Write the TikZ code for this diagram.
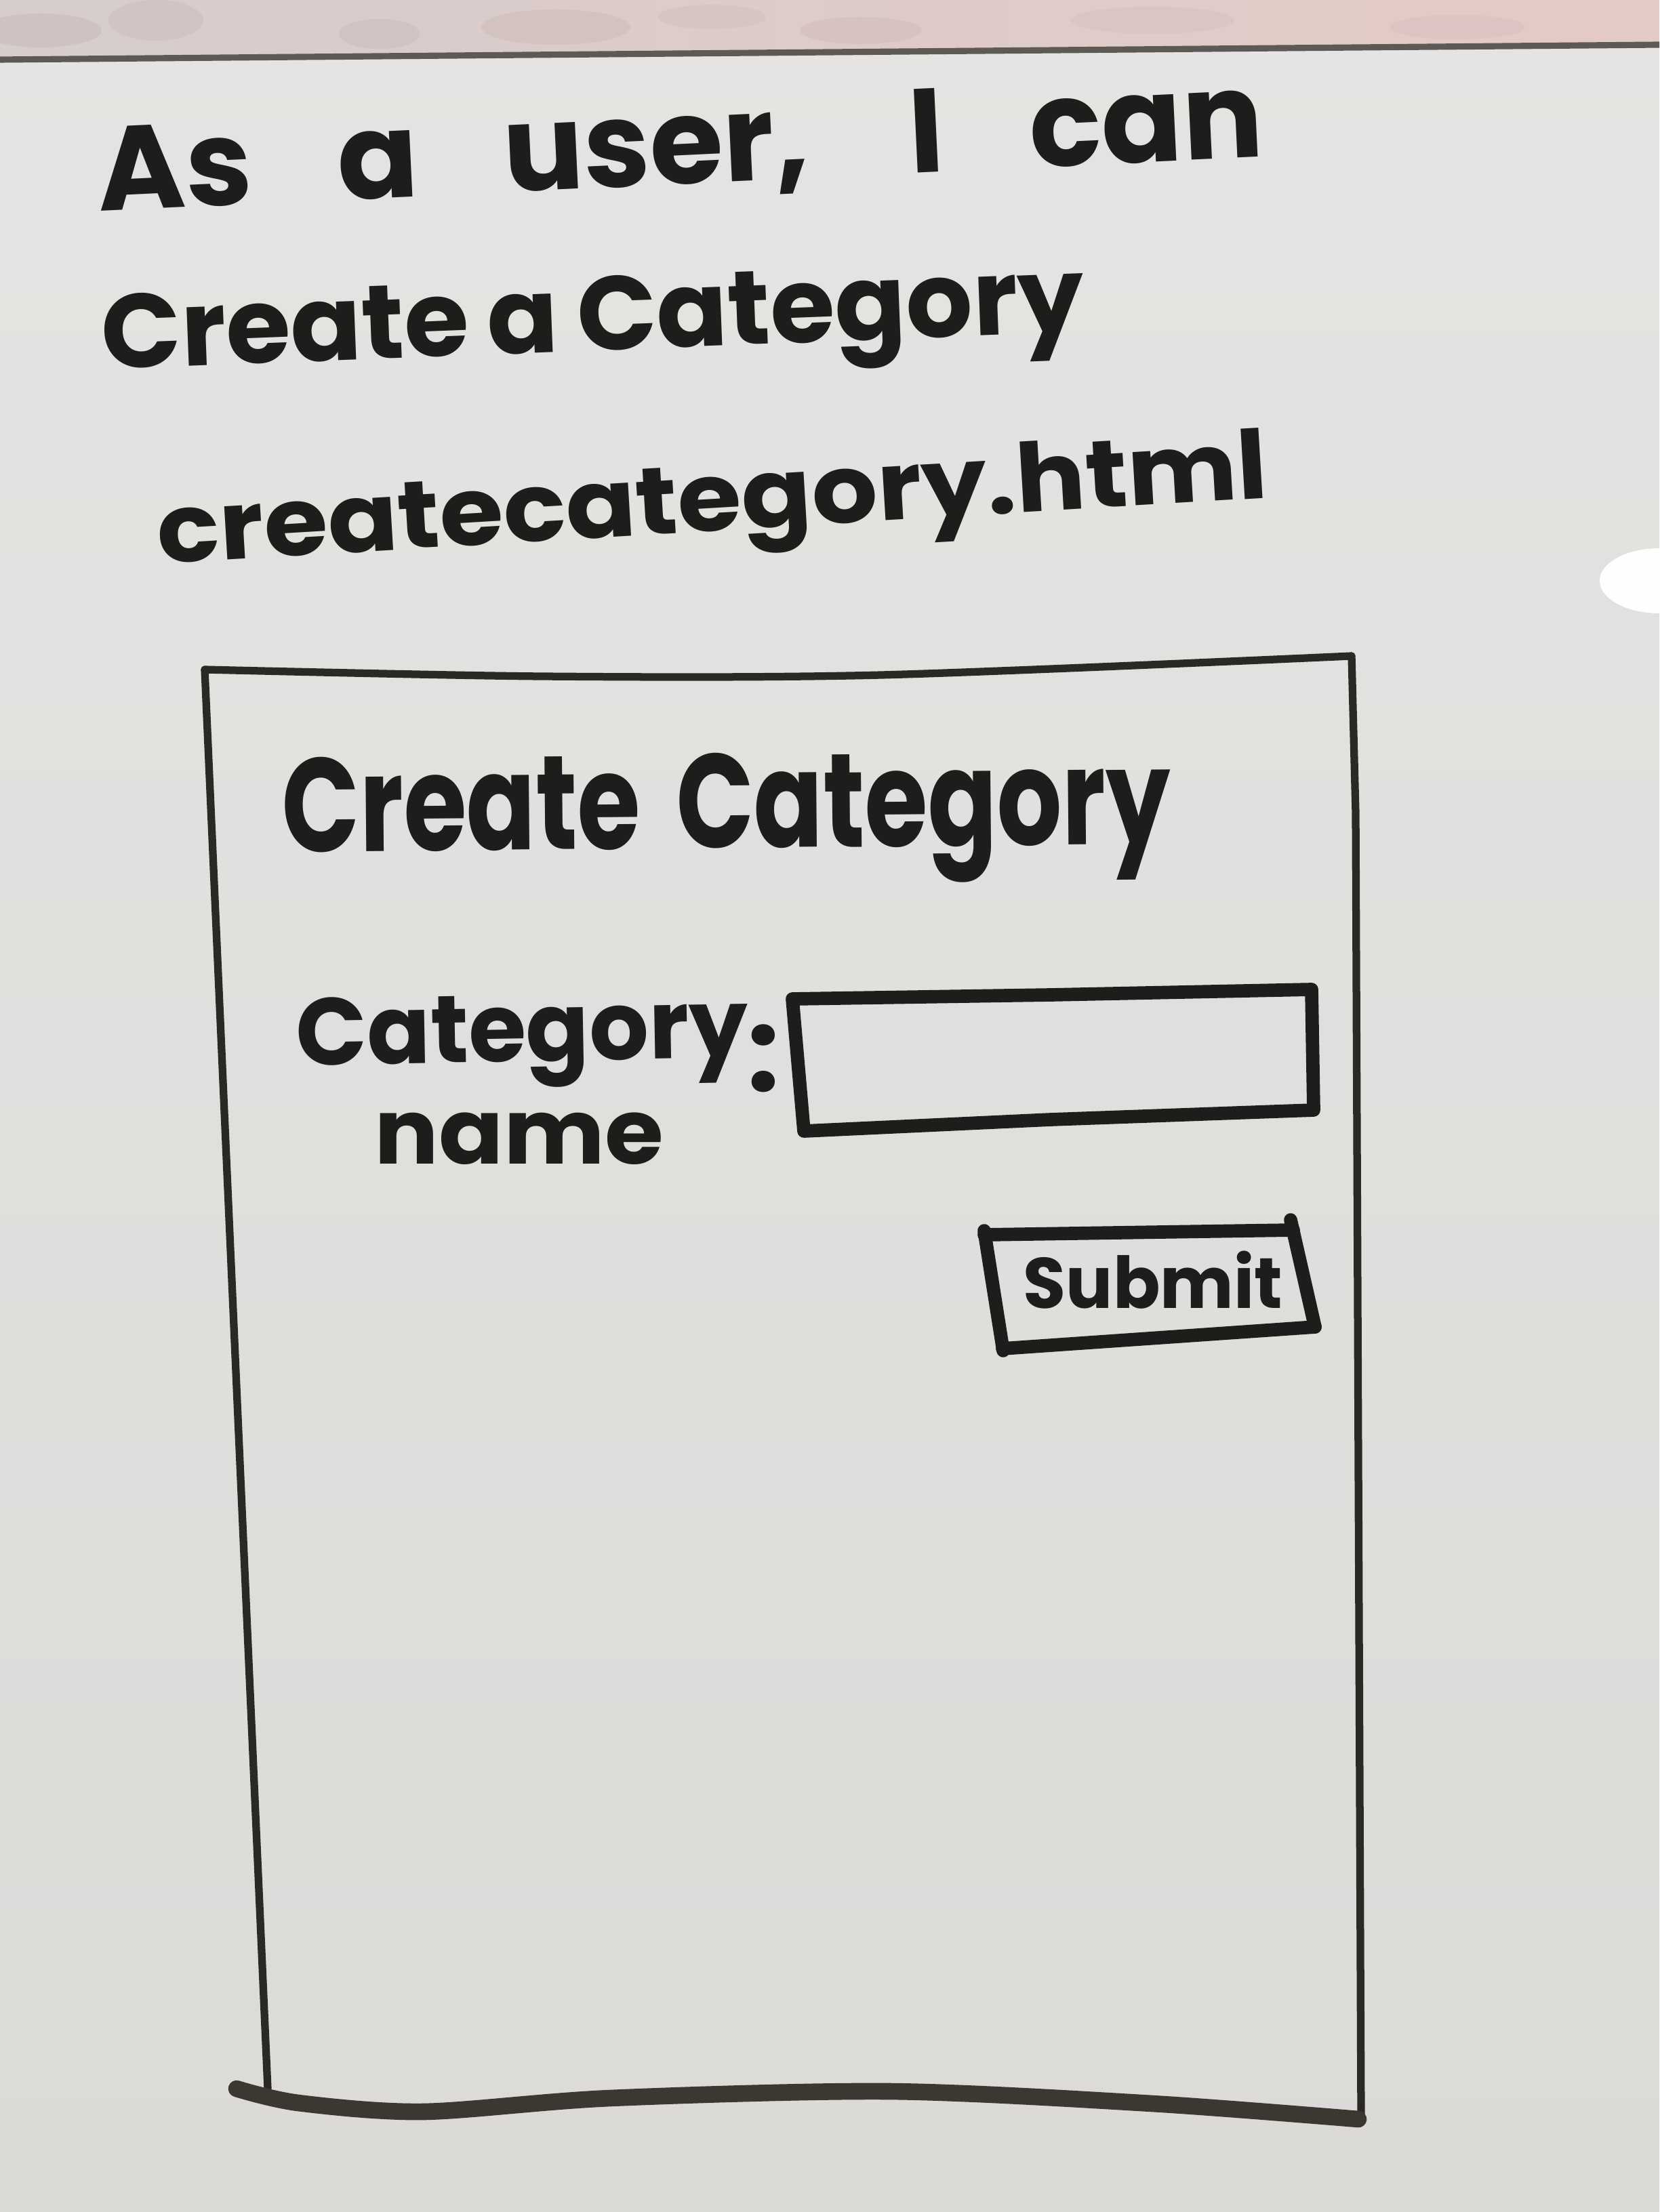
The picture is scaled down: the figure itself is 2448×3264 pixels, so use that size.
\documentclass[tikz,border=0pt]{standalone}
\usepackage{fontspec}
\setmainfont{Poppins}
\usepackage{graphicx}
\definecolor{ink}{HTML}{1F1D1B}
\definecolor{frameink}{HTML}{2B2925}
\definecolor{smear}{HTML}{3B3832}
\definecolor{board}{HTML}{E5E4E2}
\definecolor{boardlow}{HTML}{DCDAD7}
\definecolor{trayline}{HTML}{5D5A55}
\definecolor{wallleft}{RGB}{214,205,204}
\definecolor{wallright}{RGB}{228,202,198}
\definecolor{wallspot}{RGB}{175,150,152}
% horizontally fitted marker text: size, width, text
\newcommand{\marker}[3]{{\fontsize{#1}{#1}\selectfont\resizebox{#2}{\height}{#3}}}
% marker text whose word gaps stretch to the given width
\newcommand{\markerspread}[3]{{\fontsize{#1}{#1}\selectfont\makebox[#2][s]{#3}}}
\begin{document}
\begin{tikzpicture}[x=0.01cm,y=-0.01cm,
  hw/.style={inner sep=0pt, text=ink, font=\bfseries},
  thinframe/.style={draw=frameink, line width=3.2pt, line cap=round, line join=round},
  fatbox/.style={draw=ink, line width=5.6pt, line cap=round, line join=round},
  spot/.style={fill=wallspot, opacity=#1}]
\useasboundingbox (0,0) rectangle (2448,3264);

% board surface
\shade[top color=board, bottom color=boardlow] (0,0) rectangle (2448,3264);
% glare at the right edge
\fill[white!97!board] (2448,857) ellipse [x radius=88, y radius=48];

% wall above the board and the board's top rail
\begin{scope}
  \clip (0,0) -- (2448,0) -- (2448,67) -- (0,89) -- cycle;
  \shade[left color=wallleft, right color=wallright] (0,0) rectangle (2448,90);
  \fill[spot=0.18] (60,45) ellipse [x radius=90, y radius=25];
  \fill[spot=0.15] (230,30) ellipse [x radius=70, y radius=30];
  \fill[spot=0.15] (560,50) ellipse [x radius=60, y radius=22];
  \fill[spot=0.18] (820,40) ellipse [x radius=110, y radius=26];
  \fill[spot=0.12] (1050,25) ellipse [x radius=80, y radius=18];
  \fill[spot=0.15] (1270,45) ellipse [x radius=90, y radius=20];
  \fill[spot=0.10] (1700,30) ellipse [x radius=120, y radius=20];
  \fill[spot=0.10] (2150,40) ellipse [x radius=100, y radius=18];
\end{scope}
\draw[trayline, line width=2.6pt] (0,88) -- (2448,66);

% headline text
\node[hw, anchor=base west, rotate=2.7] (story1) at (146,312)
  {\markerspread{50}{17.2cm}{As a user, I can}};
\node[hw, anchor=base west, rotate=2.2] (story2) at (151,545)
  {\markerspread{44}{14.5cm}{Create a Category}};
\node[hw, anchor=base west, rotate=3.4] (filename) at (234,832)
  {\marker{40}{16.4cm}{createcategory.html}};

% page outline
\draw[thinframe] plot[smooth] coordinates {(302,988) (800,998) (1300,996) (1994,968)};
\draw[thinframe] (1994,968) -- (2000,1200) -- (2008,3125);
\draw[thinframe] (302,988) -- (395,3082);
\draw[draw=smear, line width=7pt, line cap=round, line join=round]
  plot[smooth] coordinates {(349,3082) (440,3103) (624,3116) (900,3096) (1313,3086) (1700,3104) (2004,3127)};

% page title
\node[hw, anchor=base west, rotate=0.5] (title) at (416,1257)
  {\marker{56}{13.1cm}{Create\hspace{0.35em}Category}};

% field label
\node[hw, anchor=base west, rotate=1] (label1) at (437,1572) {\marker{40}{6.66cm}{Category}};
\node[hw, anchor=base west] (label2) at (552,1717) {\marker{38}{4.26cm}{name}};
\node[hw] (colon) at (1126,1562) {\fontsize{48}{48}\selectfont :};

% text input box
\draw[fatbox] (1169,1474) -- (1550,1468) -- (1935,1460) -- (1938,1638)
  -- (1550,1652) -- (1186,1669) -- cycle;

% submit button
\draw[fatbox] (1452,1822) -- (1908,1815);
\draw[fatbox] (1904,1800) -- (1940,1958);
\draw[fatbox] (1940,1958) -- (1479,1990);
\draw[fatbox] (1452,1816) -- (1480,1993);
\node[hw, anchor=base] (submit) at (1701,1930) {\marker{30}{3.82cm}{Submit}};
\end{tikzpicture}
\end{document}
